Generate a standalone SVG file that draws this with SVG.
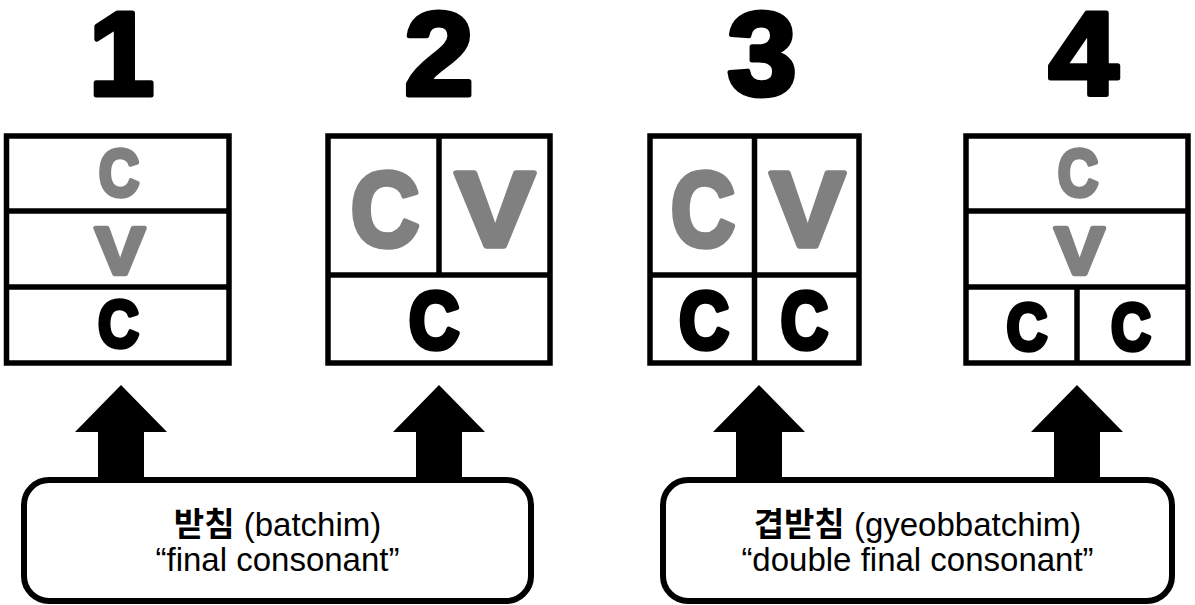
<svg xmlns="http://www.w3.org/2000/svg" width="1195" height="605" viewBox="0 0 1195 605">
<style>
.bg{fill:#ffffff}
.cell{fill:#ffffff;stroke:#000;stroke-width:5.5}
.div{stroke:#000;stroke-width:5.5;fill:none}
.num{font-family:"Liberation Sans",Arial,sans-serif;font-weight:bold;font-size:118px;fill:#000;stroke:#000;stroke-width:5;stroke-linejoin:round;text-anchor:middle}
.g{font-family:"Liberation Sans",Arial,sans-serif;font-weight:bold;fill:#808080;stroke:#808080;stroke-linejoin:round;text-anchor:middle}
.k{font-family:"Liberation Sans",Arial,sans-serif;font-weight:bold;fill:#000;stroke:#000;stroke-linejoin:round;text-anchor:middle}
.sm{font-size:67px;stroke-width:4.5}
.bg2{font-size:105px;stroke-width:5.5}
.md{font-size:80px;stroke-width:5.5}
.callout{fill:#fff;stroke:#000;stroke-width:6}
.lbl{font-family:"Liberation Sans",Arial,"Noto Sans CJK KR",sans-serif;font-size:33px;fill:#000;text-anchor:middle}
.ko{font-family:"Noto Sans CJK KR","Liberation Sans",sans-serif;font-weight:bold}
.arrow{fill:#000}
</style>
<rect class="bg" x="0" y="0" width="1195" height="605"/>

<g id="numbers">
  <text class="num" x="121.5" y="95">1</text>
  <text class="num" transform="translate(439,95) scale(1.06,1)" x="0" y="0">2</text>
  <text class="num" transform="translate(762,95) scale(1.06,1)" x="0" y="0">3</text>
  <text class="num" transform="translate(1083.5,95) scale(1.06,1)" x="0" y="0">4</text>
</g>

<g id="block1">
  <rect class="cell" x="6.5" y="136" width="222.5" height="227"/>
  <line class="div" x1="6.5" y1="211" x2="229" y2="211"/>
  <line class="div" x1="6.5" y1="287" x2="229" y2="287"/>
  <text class="g sm" transform="translate(119,196) scale(0.84,1)">C</text>
  <text class="g sm" transform="translate(120,273.5) scale(1.11,1)">V</text>
  <text class="k sm" transform="translate(118.5,347) scale(0.86,1)" style="font-size:66px">C</text>
</g>

<g id="block2">
  <rect class="cell" x="328" y="136" width="222" height="227"/>
  <line class="div" x1="328" y1="275" x2="550" y2="275"/>
  <line class="div" x1="439" y1="136" x2="439" y2="275"/>
  <text class="g bg2" transform="translate(385,246) scale(0.905,1)">C</text>
  <text class="g bg2" transform="translate(495,245.5) scale(1.13,1)">V</text>
  <text class="k md" transform="translate(434,347.5) scale(0.87,1)">C</text>
</g>

<g id="block3">
  <rect class="cell" x="650" y="136" width="209" height="227"/>
  <line class="div" x1="650" y1="275" x2="859" y2="275"/>
  <line class="div" x1="754.5" y1="136" x2="754.5" y2="363"/>
  <text class="g bg2" transform="translate(703,246) scale(0.85,1)">C</text>
  <text class="g bg2" transform="translate(807.5,245.5) scale(1.065,1)">V</text>
  <text class="k md" transform="translate(704,347.5) scale(0.86,1)">C</text>
  <text class="k md" transform="translate(804.5,347.5) scale(0.82,1)">C</text>
</g>

<g id="block4">
  <rect class="cell" x="966" y="136" width="222" height="227"/>
  <line class="div" x1="966" y1="211" x2="1188" y2="211"/>
  <line class="div" x1="966" y1="287" x2="1188" y2="287"/>
  <line class="div" x1="1077" y1="287" x2="1077" y2="363"/>
  <text class="g sm" transform="translate(1078,196) scale(0.84,1)">C</text>
  <text class="g sm" transform="translate(1079.5,273.5) scale(1.11,1)">V</text>
  <text class="k sm" transform="translate(1027,350) scale(0.86,1)" style="font-size:66px">C</text>
  <text class="k sm" transform="translate(1131,350) scale(0.84,1)" style="font-size:66px">C</text>
</g>

<g id="connectors">
  <polygon class="arrow" points="121,385 167,432 144,432 144,481 98,481 98,432 75,432"/>
  <polygon class="arrow" points="439,385 485,432 462,432 462,481 416,481 416,432 393,432"/>
  <polygon class="arrow" points="759,385 805,432 782,432 782,481 736,481 736,432 713,432"/>
  <polygon class="arrow" points="1077,385 1123,432 1100,432 1100,481 1054,481 1054,432 1031,432"/>
</g>

<g id="callout-batchim">
  <rect class="callout" x="24" y="480" width="507" height="121" rx="25" ry="25"/>
  <text class="lbl" x="277.5" y="536"><tspan class="ko">받침</tspan> (batchim)</text>
  <text class="lbl" x="277.5" y="571">“final consonant”</text>
</g>

<g id="callout-gyeobbatchim">
  <rect class="callout" x="663" y="480" width="509" height="121" rx="25" ry="25"/>
  <text class="lbl" x="917.5" y="536"><tspan class="ko">겹받침</tspan> (gyeobbatchim)</text>
  <text class="lbl" x="917.5" y="571">“double final consonant”</text>
</g>
</svg>
